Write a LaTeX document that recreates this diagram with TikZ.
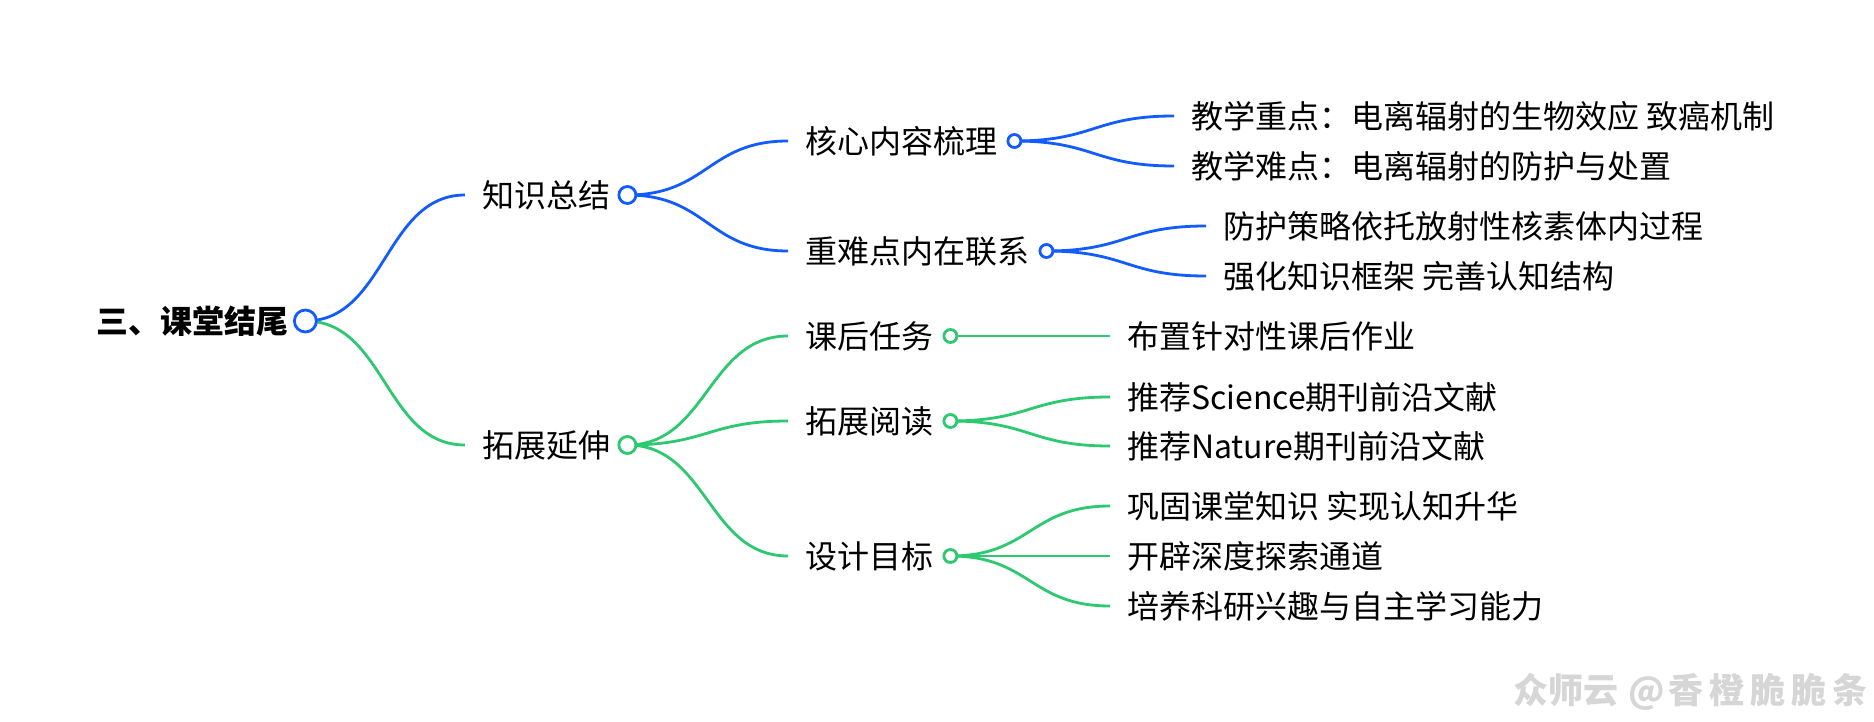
\documentclass[tikz,border=0pt]{standalone}
\usepackage{fontspec}
\setmainfont{Noto Sans CJK SC}
\definecolor{cblue}{RGB}{18,92,255}
\definecolor{cgreen}{RGB}{44,201,112}
\definecolor{wmgray}{RGB}{214,214,214}
\pgfdeclarelayer{bglayer}
\pgfdeclarelayer{linklayer}
\pgfsetlayers{bglayer,linklayer,main}
\tikzset{
  lbl/.style={anchor=west, inner xsep=17pt, inner ysep=0pt, text=black,
    font=\fontsize{32}{38}\selectfont},
  rootlbl/.style={lbl, font=\bfseries\fontsize{32}{38}\selectfont},
  knob/.style={circle, draw=#1, fill=white, line width=2.8pt, inner sep=0pt},
  knobA/.style={knob=#1, minimum size=22pt},
  knobB/.style={knob=#1, minimum size=17pt},
  knobC/.style={knob=#1, minimum size=13pt},
  link/.style={draw=#1, line width=2.8pt, out=0, in=180, distance=80pt},
}
\newcommand\wmgap{\hspace{6pt}}
\begin{document}
\begin{tikzpicture}[x=1pt,y=-1pt]
\begin{pgfonlayer}{bglayer}
\path[use as bounding box, fill=white] (0,0) rectangle (1874,722);
\end{pgfonlayer}

% text nodes
\node[rootlbl] (r) at (79,321) {三、课堂结尾};
\node[lbl] (a) at (465,195) {知识总结};
\node[lbl] (b) at (465,445) {拓展延伸};
\node[lbl] (a1) at (788,141) {核心内容梳理};
\node[lbl] (a2) at (788,251) {重难点内在联系};
\node[lbl] (b1) at (788,336) {课后任务};
\node[lbl] (b2) at (788,421) {拓展阅读};
\node[lbl] (b3) at (788,556) {设计目标};
\node[lbl] (a11) at (1174,116) {教学重点：电离辐射的生物效应 致癌机制};
\node[lbl] (a12) at (1174,166) {教学难点：电离辐射的防护与处置};
\node[lbl] (a21) at (1206,226) {防护策略依托放射性核素体内过程};
\node[lbl] (a22) at (1206,276) {强化知识框架 完善认知结构};
\node[lbl] (b11) at (1110,336) {布置针对性课后作业};
\node[lbl] (b21) at (1110,397) {推荐Science期刊前沿文献};
\node[lbl] (b22) at (1110,446) {推荐Nature期刊前沿文献};
\node[lbl] (b31) at (1110,506) {巩固课堂知识 实现认知升华};
\node[lbl] (b32) at (1110,556) {开辟深度探索通道};
\node[lbl] (b33) at (1110,606) {培养科研兴趣与自主学习能力};

% circles
\node[knobA=cblue] (rc) at (r.east) {};
\node[knobB=cblue] (ac) at (a.east) {};
\node[knobB=cgreen] (bc) at (b.east) {};
\node[knobC=cblue] (a1c) at (a1.east) {};
\node[knobC=cblue] (a2c) at (a2.east) {};
\node[knobC=cgreen] (b1c) at (b1.east) {};
\node[knobC=cgreen] (b2c) at (b2.east) {};
\node[knobC=cgreen] (b3c) at (b3.east) {};

% connectors
\begin{pgfonlayer}{linklayer}
\draw[link=cblue] (rc.center) to (a.west);
\draw[link=cgreen] (rc.center) to (b.west);
\draw[link=cblue] (ac.center) to (a1.west);
\draw[link=cblue] (ac.center) to (a2.west);
\draw[link=cblue] (a1c.center) to (a11.west);
\draw[link=cblue] (a1c.center) to (a12.west);
\draw[link=cblue] (a2c.center) to (a21.west);
\draw[link=cblue] (a2c.center) to (a22.west);
\draw[link=cgreen] (bc.center) to (b1.west);
\draw[link=cgreen] (bc.center) to (b2.west);
\draw[link=cgreen] (bc.center) to (b3.west);
\draw[link=cgreen] (b1c.center) to (b11.west);
\draw[link=cgreen] (b2c.center) to (b21.west);
\draw[link=cgreen] (b2c.center) to (b22.west);
\draw[link=cgreen] (b3c.center) to (b31.west);
\draw[link=cgreen] (b3c.center) to (b32.west);
\draw[link=cgreen] (b3c.center) to (b33.west);
\end{pgfonlayer}

% watermark
\node[anchor=west, inner sep=0pt, text=wmgray, font=\bfseries\fontsize{35}{40}\selectfont] (wm) at (1513,692)
  {众师云\hspace{10pt}@\hspace{4pt}香\wmgap 橙\wmgap 脆\wmgap 脆\wmgap 条};
\end{tikzpicture}
\end{document}
